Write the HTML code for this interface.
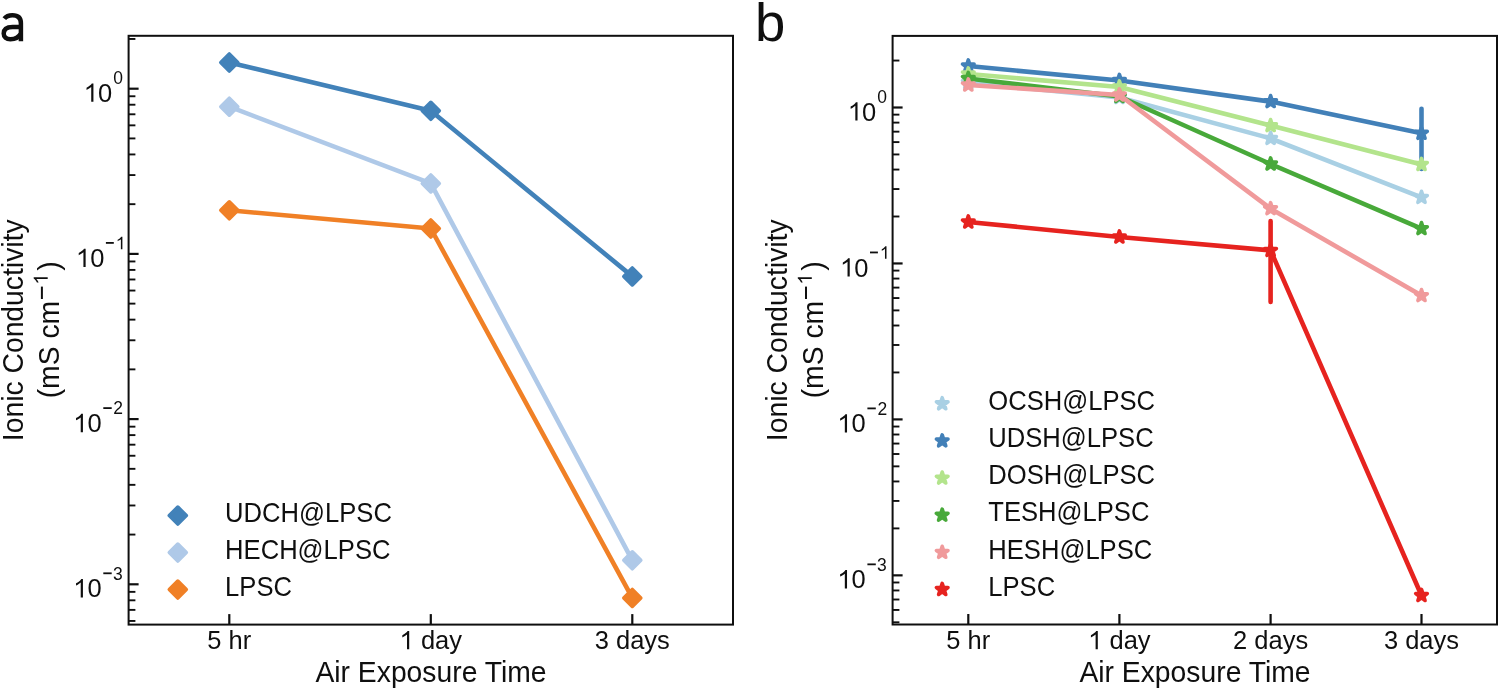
<!DOCTYPE html>
<html><head><meta charset="utf-8"><style>
html,body{margin:0;padding:0;background:#fff;overflow:hidden;}
svg{display:block;will-change:transform;}
text{font-family:"Liberation Sans", sans-serif;fill:#0f0f0f;}
</style></head><body>
<svg width="1500" height="690" viewBox="0 0 1500 690">
<line x1="128.6" y1="584.3" x2="138.6" y2="584.3" stroke="#0f0f0f" stroke-width="2.2"/>
<line x1="128.6" y1="419.1" x2="138.6" y2="419.1" stroke="#0f0f0f" stroke-width="2.2"/>
<line x1="128.6" y1="253.9" x2="138.6" y2="253.9" stroke="#0f0f0f" stroke-width="2.2"/>
<line x1="128.6" y1="88.7" x2="138.6" y2="88.7" stroke="#0f0f0f" stroke-width="2.2"/>
<line x1="128.6" y1="620.95" x2="135.4" y2="620.95" stroke="#0f0f0f" stroke-width="1.9"/>
<line x1="128.6" y1="609.89" x2="135.4" y2="609.89" stroke="#0f0f0f" stroke-width="1.9"/>
<line x1="128.6" y1="600.31" x2="135.4" y2="600.31" stroke="#0f0f0f" stroke-width="1.9"/>
<line x1="128.6" y1="591.86" x2="135.4" y2="591.86" stroke="#0f0f0f" stroke-width="1.9"/>
<line x1="128.6" y1="534.57" x2="135.4" y2="534.57" stroke="#0f0f0f" stroke-width="1.9"/>
<line x1="128.6" y1="505.48" x2="135.4" y2="505.48" stroke="#0f0f0f" stroke-width="1.9"/>
<line x1="128.6" y1="484.84" x2="135.4" y2="484.84" stroke="#0f0f0f" stroke-width="1.9"/>
<line x1="128.6" y1="468.83" x2="135.4" y2="468.83" stroke="#0f0f0f" stroke-width="1.9"/>
<line x1="128.6" y1="455.75" x2="135.4" y2="455.75" stroke="#0f0f0f" stroke-width="1.9"/>
<line x1="128.6" y1="444.69" x2="135.4" y2="444.69" stroke="#0f0f0f" stroke-width="1.9"/>
<line x1="128.6" y1="435.11" x2="135.4" y2="435.11" stroke="#0f0f0f" stroke-width="1.9"/>
<line x1="128.6" y1="426.66" x2="135.4" y2="426.66" stroke="#0f0f0f" stroke-width="1.9"/>
<line x1="128.6" y1="369.37" x2="135.4" y2="369.37" stroke="#0f0f0f" stroke-width="1.9"/>
<line x1="128.6" y1="340.28" x2="135.4" y2="340.28" stroke="#0f0f0f" stroke-width="1.9"/>
<line x1="128.6" y1="319.64" x2="135.4" y2="319.64" stroke="#0f0f0f" stroke-width="1.9"/>
<line x1="128.6" y1="303.63" x2="135.4" y2="303.63" stroke="#0f0f0f" stroke-width="1.9"/>
<line x1="128.6" y1="290.55" x2="135.4" y2="290.55" stroke="#0f0f0f" stroke-width="1.9"/>
<line x1="128.6" y1="279.49" x2="135.4" y2="279.49" stroke="#0f0f0f" stroke-width="1.9"/>
<line x1="128.6" y1="269.91" x2="135.4" y2="269.91" stroke="#0f0f0f" stroke-width="1.9"/>
<line x1="128.6" y1="261.46" x2="135.4" y2="261.46" stroke="#0f0f0f" stroke-width="1.9"/>
<line x1="128.6" y1="204.17" x2="135.4" y2="204.17" stroke="#0f0f0f" stroke-width="1.9"/>
<line x1="128.6" y1="175.08" x2="135.4" y2="175.08" stroke="#0f0f0f" stroke-width="1.9"/>
<line x1="128.6" y1="154.44" x2="135.4" y2="154.44" stroke="#0f0f0f" stroke-width="1.9"/>
<line x1="128.6" y1="138.43" x2="135.4" y2="138.43" stroke="#0f0f0f" stroke-width="1.9"/>
<line x1="128.6" y1="125.35" x2="135.4" y2="125.35" stroke="#0f0f0f" stroke-width="1.9"/>
<line x1="128.6" y1="114.29" x2="135.4" y2="114.29" stroke="#0f0f0f" stroke-width="1.9"/>
<line x1="128.6" y1="104.71" x2="135.4" y2="104.71" stroke="#0f0f0f" stroke-width="1.9"/>
<line x1="128.6" y1="96.26" x2="135.4" y2="96.26" stroke="#0f0f0f" stroke-width="1.9"/>
<line x1="128.6" y1="38.97" x2="135.4" y2="38.97" stroke="#0f0f0f" stroke-width="1.9"/>
<line x1="229.3" y1="624.6" x2="229.3" y2="614.1" stroke="#0f0f0f" stroke-width="2.2"/>
<line x1="430.8" y1="624.6" x2="430.8" y2="614.1" stroke="#0f0f0f" stroke-width="2.2"/>
<line x1="632.3" y1="624.6" x2="632.3" y2="614.1" stroke="#0f0f0f" stroke-width="2.2"/>
<rect x="128.6" y="35.8" width="604.40" height="588.80" fill="none" stroke="#0f0f0f" stroke-width="2.0"/>
<path d="M771,0 L594,0 L594,1139 C530,1080 450,1025 355,975 C300,946 255,925 217,912 L217,1082 C330,1130 430,1195 510,1265 C570,1318 612,1367 640,1409 L771,1409 Z" transform="translate(83.83,101.80) scale(0.01245,-0.01301)" fill="#0f0f0f"/>
<text transform="matrix(1,0,0,1.045,0,-4.581)" x="98.01" y="101.80" font-size="25.5">0</text>
<text transform="matrix(1,0,0,1.045,0,-3.784)" x="122.88" y="84.10" font-size="17.5" text-anchor="end">0</text>
<path d="M771,0 L594,0 L594,1139 C530,1080 450,1025 355,975 C300,946 255,925 217,912 L217,1082 C330,1130 430,1195 510,1265 C570,1318 612,1367 640,1409 L771,1409 Z" transform="translate(76.03,267.00) scale(0.01245,-0.01301)" fill="#0f0f0f"/>
<text transform="matrix(1,0,0,1.045,0,-12.015)" x="90.21" y="267.00" font-size="25.5">0</text>
<rect x="105.90" y="242.00" width="7.90" height="1.8" fill="#0f0f0f"/>
<path d="M771,0 L594,0 L594,1139 C530,1080 450,1025 355,975 C300,946 255,925 217,912 L217,1082 C330,1130 430,1195 510,1265 C570,1318 612,1367 640,1409 L771,1409 Z" transform="translate(115.81,249.30) scale(0.00854,-0.00893)" fill="#0f0f0f"/>
<path d="M771,0 L594,0 L594,1139 C530,1080 450,1025 355,975 C300,946 255,925 217,912 L217,1082 C330,1130 430,1195 510,1265 C570,1318 612,1367 640,1409 L771,1409 Z" transform="translate(73.33,432.20) scale(0.01245,-0.01301)" fill="#0f0f0f"/>
<text transform="matrix(1,0,0,1.045,0,-19.449)" x="87.51" y="432.20" font-size="25.5">0</text>
<rect x="103.30" y="407.20" width="8.40" height="1.8" fill="#0f0f0f"/>
<text transform="matrix(1,0,0,1.045,0,-18.652)" x="123.08" y="414.50" font-size="17.5" text-anchor="end">2</text>
<path d="M771,0 L594,0 L594,1139 C530,1080 450,1025 355,975 C300,946 255,925 217,912 L217,1082 C330,1130 430,1195 510,1265 C570,1318 612,1367 640,1409 L771,1409 Z" transform="translate(73.33,597.40) scale(0.01245,-0.01301)" fill="#0f0f0f"/>
<text transform="matrix(1,0,0,1.045,0,-26.883)" x="87.51" y="597.40" font-size="25.5">0</text>
<rect x="103.30" y="572.40" width="8.40" height="1.8" fill="#0f0f0f"/>
<text transform="matrix(1,0,0,1.045,0,-26.086)" x="122.67" y="579.70" font-size="17.5" text-anchor="end">3</text>
<text transform="matrix(1,0,0,1.045,0,-29.218)" x="229.3" y="649.3" font-size="25.5" text-anchor="middle">5 hr</text>
<path d="M771,0 L594,0 L594,1139 C530,1080 450,1025 355,975 C300,946 255,925 217,912 L217,1082 C330,1130 430,1195 510,1265 C570,1318 612,1367 640,1409 L771,1409 Z" transform="translate(399.61,649.30) scale(0.01245,-0.01301)" fill="#0f0f0f"/>
<text transform="matrix(1,0,0,1.045,0,-29.218)" x="420.88" y="649.3" font-size="25.5">day</text>
<text transform="matrix(1,0,0,1.045,0,-29.218)" x="632.3" y="649.3" font-size="25.5" text-anchor="middle">3 days</text>
<text transform="matrix(1,0,0,1.045,0,-30.703)" x="431.00" y="682.3" font-size="28.3" text-anchor="middle">Air Exposure Time</text>
<text transform="translate(22.8,330.3) rotate(-90) scale(1,1.045)" font-size="28.3" text-anchor="middle">Ionic Conductivity</text>
<g transform="translate(58.9,0) rotate(-90)">
<text transform="matrix(1,0,0,1.045,0,-0.000)" x="-398.35" y="0" font-size="28.3">(mS cm</text>
<rect x="-299" y="-18" width="12.4" height="2" fill="#0f0f0f"/>
<path d="M771,0 L594,0 L594,1139 C530,1080 450,1025 355,975 C300,946 255,925 217,912 L217,1082 C330,1130 430,1195 510,1265 C570,1318 612,1367 640,1409 L771,1409 Z" transform="translate(-284.67,-11.20) scale(0.00952,-0.00995)" fill="#0f0f0f"/>
<text transform="matrix(1,0,0,1.045,0,-0.000)" x="-270.77" y="0" font-size="28.3">)</text>
</g>
<path d="M4.3,18.6 C6.2,16.1 9,15.2 12.4,15.2 C18.2,15.2 20.9,17.6 20.9,23.2 L20.9,41.3 M20.9,27.0 L12.6,27.0 C6.4,27.0 3.7,29.6 3.7,33.6 C3.7,37.2 6.3,39.2 10.4,39.2 C15.2,39.2 19.2,36.6 20.9,33.2" fill="none" stroke="#0f0f0f" stroke-width="4.5"/>
<polyline points="229.3,62.5 430.8,110.8 632.3,276.4" fill="none" stroke="#4282b9" stroke-width="4.6" stroke-linejoin="round" stroke-linecap="round"/>
<path d="M229.30,54.00 L237.80,62.50 L229.30,71.00 L220.80,62.50 Z" fill="#4282b9" stroke="#4282b9" stroke-width="3.6" stroke-linejoin="round"/>
<path d="M430.80,102.30 L439.30,110.80 L430.80,119.30 L422.30,110.80 Z" fill="#4282b9" stroke="#4282b9" stroke-width="3.6" stroke-linejoin="round"/>
<path d="M632.30,267.90 L640.80,276.40 L632.30,284.90 L623.80,276.40 Z" fill="#4282b9" stroke="#4282b9" stroke-width="3.6" stroke-linejoin="round"/>
<polyline points="229.3,106.7 430.8,183.4 632.3,560.3" fill="none" stroke="#afc9e8" stroke-width="4.6" stroke-linejoin="round" stroke-linecap="round"/>
<path d="M229.30,98.20 L237.80,106.70 L229.30,115.20 L220.80,106.70 Z" fill="#afc9e8" stroke="#afc9e8" stroke-width="3.6" stroke-linejoin="round"/>
<path d="M430.80,174.90 L439.30,183.40 L430.80,191.90 L422.30,183.40 Z" fill="#afc9e8" stroke="#afc9e8" stroke-width="3.6" stroke-linejoin="round"/>
<path d="M632.30,551.80 L640.80,560.30 L632.30,568.80 L623.80,560.30 Z" fill="#afc9e8" stroke="#afc9e8" stroke-width="3.6" stroke-linejoin="round"/>
<polyline points="229.3,210.3 430.8,228.5 632.3,597.9" fill="none" stroke="#f08026" stroke-width="4.6" stroke-linejoin="round" stroke-linecap="round"/>
<path d="M229.30,201.80 L237.80,210.30 L229.30,218.80 L220.80,210.30 Z" fill="#f08026" stroke="#f08026" stroke-width="3.6" stroke-linejoin="round"/>
<path d="M430.80,220.00 L439.30,228.50 L430.80,237.00 L422.30,228.50 Z" fill="#f08026" stroke="#f08026" stroke-width="3.6" stroke-linejoin="round"/>
<path d="M632.30,589.40 L640.80,597.90 L632.30,606.40 L623.80,597.90 Z" fill="#f08026" stroke="#f08026" stroke-width="3.6" stroke-linejoin="round"/>
<path d="M177.80,507.10 L186.30,515.60 L177.80,524.10 L169.30,515.60 Z" fill="#4282b9" stroke="#4282b9" stroke-width="3.6" stroke-linejoin="round"/>
<text transform="matrix(1,0,0,1.045,0,-23.503)" x="225.12" y="522.30" font-size="25.6">UDCH@LPSC</text>
<path d="M177.80,544.10 L186.30,552.60 L177.80,561.10 L169.30,552.60 Z" fill="#afc9e8" stroke="#afc9e8" stroke-width="3.6" stroke-linejoin="round"/>
<text transform="matrix(1,0,0,1.045,0,-25.168)" x="225.12" y="559.30" font-size="25.6">HECH@LPSC</text>
<path d="M177.80,581.10 L186.30,589.60 L177.80,598.10 L169.30,589.60 Z" fill="#f08026" stroke="#f08026" stroke-width="3.6" stroke-linejoin="round"/>
<text transform="matrix(1,0,0,1.045,0,-26.833)" x="225.12" y="596.30" font-size="25.6">LPSC</text>
<line x1="892.6" y1="575.35" x2="902.6" y2="575.35" stroke="#0f0f0f" stroke-width="2.2"/>
<line x1="892.6" y1="419.4" x2="902.6" y2="419.4" stroke="#0f0f0f" stroke-width="2.2"/>
<line x1="892.6" y1="263.45" x2="902.6" y2="263.45" stroke="#0f0f0f" stroke-width="2.2"/>
<line x1="892.6" y1="107.5" x2="902.6" y2="107.5" stroke="#0f0f0f" stroke-width="2.2"/>
<line x1="892.6" y1="622.3" x2="899.4" y2="622.3" stroke="#0f0f0f" stroke-width="1.9"/>
<line x1="892.6" y1="609.95" x2="899.4" y2="609.95" stroke="#0f0f0f" stroke-width="1.9"/>
<line x1="892.6" y1="599.51" x2="899.4" y2="599.51" stroke="#0f0f0f" stroke-width="1.9"/>
<line x1="892.6" y1="590.46" x2="899.4" y2="590.46" stroke="#0f0f0f" stroke-width="1.9"/>
<line x1="892.6" y1="582.49" x2="899.4" y2="582.49" stroke="#0f0f0f" stroke-width="1.9"/>
<line x1="892.6" y1="528.4" x2="899.4" y2="528.4" stroke="#0f0f0f" stroke-width="1.9"/>
<line x1="892.6" y1="500.94" x2="899.4" y2="500.94" stroke="#0f0f0f" stroke-width="1.9"/>
<line x1="892.6" y1="481.46" x2="899.4" y2="481.46" stroke="#0f0f0f" stroke-width="1.9"/>
<line x1="892.6" y1="466.35" x2="899.4" y2="466.35" stroke="#0f0f0f" stroke-width="1.9"/>
<line x1="892.6" y1="454.0" x2="899.4" y2="454.0" stroke="#0f0f0f" stroke-width="1.9"/>
<line x1="892.6" y1="443.56" x2="899.4" y2="443.56" stroke="#0f0f0f" stroke-width="1.9"/>
<line x1="892.6" y1="434.51" x2="899.4" y2="434.51" stroke="#0f0f0f" stroke-width="1.9"/>
<line x1="892.6" y1="426.54" x2="899.4" y2="426.54" stroke="#0f0f0f" stroke-width="1.9"/>
<line x1="892.6" y1="372.45" x2="899.4" y2="372.45" stroke="#0f0f0f" stroke-width="1.9"/>
<line x1="892.6" y1="344.99" x2="899.4" y2="344.99" stroke="#0f0f0f" stroke-width="1.9"/>
<line x1="892.6" y1="325.51" x2="899.4" y2="325.51" stroke="#0f0f0f" stroke-width="1.9"/>
<line x1="892.6" y1="310.4" x2="899.4" y2="310.4" stroke="#0f0f0f" stroke-width="1.9"/>
<line x1="892.6" y1="298.05" x2="899.4" y2="298.05" stroke="#0f0f0f" stroke-width="1.9"/>
<line x1="892.6" y1="287.61" x2="899.4" y2="287.61" stroke="#0f0f0f" stroke-width="1.9"/>
<line x1="892.6" y1="278.56" x2="899.4" y2="278.56" stroke="#0f0f0f" stroke-width="1.9"/>
<line x1="892.6" y1="270.59" x2="899.4" y2="270.59" stroke="#0f0f0f" stroke-width="1.9"/>
<line x1="892.6" y1="216.5" x2="899.4" y2="216.5" stroke="#0f0f0f" stroke-width="1.9"/>
<line x1="892.6" y1="189.04" x2="899.4" y2="189.04" stroke="#0f0f0f" stroke-width="1.9"/>
<line x1="892.6" y1="169.56" x2="899.4" y2="169.56" stroke="#0f0f0f" stroke-width="1.9"/>
<line x1="892.6" y1="154.45" x2="899.4" y2="154.45" stroke="#0f0f0f" stroke-width="1.9"/>
<line x1="892.6" y1="142.1" x2="899.4" y2="142.1" stroke="#0f0f0f" stroke-width="1.9"/>
<line x1="892.6" y1="131.66" x2="899.4" y2="131.66" stroke="#0f0f0f" stroke-width="1.9"/>
<line x1="892.6" y1="122.61" x2="899.4" y2="122.61" stroke="#0f0f0f" stroke-width="1.9"/>
<line x1="892.6" y1="114.64" x2="899.4" y2="114.64" stroke="#0f0f0f" stroke-width="1.9"/>
<line x1="892.6" y1="60.55" x2="899.4" y2="60.55" stroke="#0f0f0f" stroke-width="1.9"/>
<line x1="968.3" y1="624.5" x2="968.3" y2="614.0" stroke="#0f0f0f" stroke-width="2.2"/>
<line x1="1119.4" y1="624.5" x2="1119.4" y2="614.0" stroke="#0f0f0f" stroke-width="2.2"/>
<line x1="1270.6" y1="624.5" x2="1270.6" y2="614.0" stroke="#0f0f0f" stroke-width="2.2"/>
<line x1="1421.5" y1="624.5" x2="1421.5" y2="614.0" stroke="#0f0f0f" stroke-width="2.2"/>
<rect x="892.6" y="35.9" width="604.40" height="588.60" fill="none" stroke="#0f0f0f" stroke-width="2.0"/>
<path d="M771,0 L594,0 L594,1139 C530,1080 450,1025 355,975 C300,946 255,925 217,912 L217,1082 C330,1130 430,1195 510,1265 C570,1318 612,1367 640,1409 L771,1409 Z" transform="translate(847.93,120.60) scale(0.01245,-0.01301)" fill="#0f0f0f"/>
<text transform="matrix(1,0,0,1.045,0,-5.427)" x="862.11" y="120.60" font-size="25.5">0</text>
<text transform="matrix(1,0,0,1.045,0,-4.630)" x="886.98" y="102.90" font-size="17.5" text-anchor="end">0</text>
<path d="M771,0 L594,0 L594,1139 C530,1080 450,1025 355,975 C300,946 255,925 217,912 L217,1082 C330,1130 430,1195 510,1265 C570,1318 612,1367 640,1409 L771,1409 Z" transform="translate(840.13,276.55) scale(0.01245,-0.01301)" fill="#0f0f0f"/>
<text transform="matrix(1,0,0,1.045,0,-12.445)" x="854.31" y="276.55" font-size="25.5">0</text>
<rect x="870.00" y="251.55" width="7.90" height="1.8" fill="#0f0f0f"/>
<path d="M771,0 L594,0 L594,1139 C530,1080 450,1025 355,975 C300,946 255,925 217,912 L217,1082 C330,1130 430,1195 510,1265 C570,1318 612,1367 640,1409 L771,1409 Z" transform="translate(879.91,258.85) scale(0.00854,-0.00893)" fill="#0f0f0f"/>
<path d="M771,0 L594,0 L594,1139 C530,1080 450,1025 355,975 C300,946 255,925 217,912 L217,1082 C330,1130 430,1195 510,1265 C570,1318 612,1367 640,1409 L771,1409 Z" transform="translate(837.43,432.50) scale(0.01245,-0.01301)" fill="#0f0f0f"/>
<text transform="matrix(1,0,0,1.045,0,-19.462)" x="851.61" y="432.50" font-size="25.5">0</text>
<rect x="867.40" y="407.50" width="8.40" height="1.8" fill="#0f0f0f"/>
<text transform="matrix(1,0,0,1.045,0,-18.666)" x="887.18" y="414.80" font-size="17.5" text-anchor="end">2</text>
<path d="M771,0 L594,0 L594,1139 C530,1080 450,1025 355,975 C300,946 255,925 217,912 L217,1082 C330,1130 430,1195 510,1265 C570,1318 612,1367 640,1409 L771,1409 Z" transform="translate(837.43,588.45) scale(0.01245,-0.01301)" fill="#0f0f0f"/>
<text transform="matrix(1,0,0,1.045,0,-26.480)" x="851.61" y="588.45" font-size="25.5">0</text>
<rect x="867.40" y="563.45" width="8.40" height="1.8" fill="#0f0f0f"/>
<text transform="matrix(1,0,0,1.045,0,-25.684)" x="886.77" y="570.75" font-size="17.5" text-anchor="end">3</text>
<text transform="matrix(1,0,0,1.045,0,-29.218)" x="968.3" y="649.3" font-size="25.5" text-anchor="middle">5 hr</text>
<path d="M771,0 L594,0 L594,1139 C530,1080 450,1025 355,975 C300,946 255,925 217,912 L217,1082 C330,1130 430,1195 510,1265 C570,1318 612,1367 640,1409 L771,1409 Z" transform="translate(1088.21,649.30) scale(0.01245,-0.01301)" fill="#0f0f0f"/>
<text transform="matrix(1,0,0,1.045,0,-29.218)" x="1109.48" y="649.3" font-size="25.5">day</text>
<text transform="matrix(1,0,0,1.045,0,-29.218)" x="1270.6" y="649.3" font-size="25.5" text-anchor="middle">2 days</text>
<text transform="matrix(1,0,0,1.045,0,-29.218)" x="1421.5" y="649.3" font-size="25.5" text-anchor="middle">3 days</text>
<text transform="matrix(1,0,0,1.045,0,-30.703)" x="1195.00" y="682.3" font-size="28.3" text-anchor="middle">Air Exposure Time</text>
<text transform="translate(786.9,330.3) rotate(-90) scale(1,1.045)" font-size="28.3" text-anchor="middle">Ionic Conductivity</text>
<g transform="translate(823.0,0) rotate(-90)">
<text transform="matrix(1,0,0,1.045,0,-0.000)" x="-398.35" y="0" font-size="28.3">(mS cm</text>
<rect x="-299" y="-18" width="12.4" height="2" fill="#0f0f0f"/>
<path d="M771,0 L594,0 L594,1139 C530,1080 450,1025 355,975 C300,946 255,925 217,912 L217,1082 C330,1130 430,1195 510,1265 C570,1318 612,1367 640,1409 L771,1409 Z" transform="translate(-284.67,-11.20) scale(0.00952,-0.00995)" fill="#0f0f0f"/>
<text transform="matrix(1,0,0,1.045,0,-0.000)" x="-270.77" y="0" font-size="28.3">)</text>
</g>
<text x="754.9" y="40.8" font-size="54.5">b</text>
<polyline points="968.3,82.5 1119.4,97.5 1270.6,138.4 1421.5,197.4" fill="none" stroke="#a9d0e4" stroke-width="4.6" stroke-linejoin="round" stroke-linecap="round"/>
<polygon points="968.30,76.40 969.67,80.61 974.10,80.61 970.52,83.22 971.89,87.44 968.30,84.83 964.71,87.44 966.08,83.22 962.50,80.61 966.93,80.61" fill="#a9d0e4" stroke="#a9d0e4" stroke-width="3.6" stroke-linejoin="round"/>
<polygon points="1119.40,91.40 1120.77,95.61 1125.20,95.61 1121.62,98.22 1122.99,102.44 1119.40,99.83 1115.81,102.44 1117.18,98.22 1113.60,95.61 1118.03,95.61" fill="#a9d0e4" stroke="#a9d0e4" stroke-width="3.6" stroke-linejoin="round"/>
<polygon points="1270.60,132.30 1271.97,136.51 1276.40,136.51 1272.82,139.12 1274.19,143.34 1270.60,140.73 1267.01,143.34 1268.38,139.12 1264.80,136.51 1269.23,136.51" fill="#a9d0e4" stroke="#a9d0e4" stroke-width="3.6" stroke-linejoin="round"/>
<polygon points="1421.50,191.30 1422.87,195.51 1427.30,195.51 1423.72,198.12 1425.09,202.34 1421.50,199.73 1417.91,202.34 1419.28,198.12 1415.70,195.51 1420.13,195.51" fill="#a9d0e4" stroke="#a9d0e4" stroke-width="3.6" stroke-linejoin="round"/>
<polyline points="968.3,66 1119.4,80.5 1270.6,101.6 1421.5,133.3" fill="none" stroke="#4280b8" stroke-width="4.6" stroke-linejoin="round" stroke-linecap="round"/>
<polygon points="968.30,59.90 969.67,64.11 974.10,64.11 970.52,66.72 971.89,70.94 968.30,68.33 964.71,70.94 966.08,66.72 962.50,64.11 966.93,64.11" fill="#4280b8" stroke="#4280b8" stroke-width="3.6" stroke-linejoin="round"/>
<polygon points="1119.40,74.40 1120.77,78.61 1125.20,78.61 1121.62,81.22 1122.99,85.44 1119.40,82.83 1115.81,85.44 1117.18,81.22 1113.60,78.61 1118.03,78.61" fill="#4280b8" stroke="#4280b8" stroke-width="3.6" stroke-linejoin="round"/>
<polygon points="1270.60,95.50 1271.97,99.71 1276.40,99.71 1272.82,102.32 1274.19,106.54 1270.60,103.93 1267.01,106.54 1268.38,102.32 1264.80,99.71 1269.23,99.71" fill="#4280b8" stroke="#4280b8" stroke-width="3.6" stroke-linejoin="round"/>
<polygon points="1421.50,127.20 1422.87,131.41 1427.30,131.41 1423.72,134.02 1425.09,138.24 1421.50,135.63 1417.91,138.24 1419.28,134.02 1415.70,131.41 1420.13,131.41" fill="#4280b8" stroke="#4280b8" stroke-width="3.6" stroke-linejoin="round"/>
<line x1="1421.5" y1="108.7" x2="1421.5" y2="169.0" stroke="#4280b8" stroke-width="4.6" stroke-linecap="round"/>
<polyline points="968.3,74 1119.4,87 1270.6,125.6 1421.5,164.5" fill="none" stroke="#b3e48c" stroke-width="4.6" stroke-linejoin="round" stroke-linecap="round"/>
<polygon points="968.30,67.90 969.67,72.11 974.10,72.11 970.52,74.72 971.89,78.94 968.30,76.33 964.71,78.94 966.08,74.72 962.50,72.11 966.93,72.11" fill="#b3e48c" stroke="#b3e48c" stroke-width="3.6" stroke-linejoin="round"/>
<polygon points="1119.40,80.90 1120.77,85.11 1125.20,85.11 1121.62,87.72 1122.99,91.94 1119.40,89.33 1115.81,91.94 1117.18,87.72 1113.60,85.11 1118.03,85.11" fill="#b3e48c" stroke="#b3e48c" stroke-width="3.6" stroke-linejoin="round"/>
<polygon points="1270.60,119.50 1271.97,123.71 1276.40,123.71 1272.82,126.32 1274.19,130.54 1270.60,127.93 1267.01,130.54 1268.38,126.32 1264.80,123.71 1269.23,123.71" fill="#b3e48c" stroke="#b3e48c" stroke-width="3.6" stroke-linejoin="round"/>
<polygon points="1421.50,158.40 1422.87,162.61 1427.30,162.61 1423.72,165.22 1425.09,169.44 1421.50,166.83 1417.91,169.44 1419.28,165.22 1415.70,162.61 1420.13,162.61" fill="#b3e48c" stroke="#b3e48c" stroke-width="3.6" stroke-linejoin="round"/>
<polyline points="968.3,78.5 1119.4,96.5 1270.6,164 1421.5,228.6" fill="none" stroke="#48a93a" stroke-width="4.6" stroke-linejoin="round" stroke-linecap="round"/>
<polygon points="968.30,72.40 969.67,76.61 974.10,76.61 970.52,79.22 971.89,83.44 968.30,80.83 964.71,83.44 966.08,79.22 962.50,76.61 966.93,76.61" fill="#48a93a" stroke="#48a93a" stroke-width="3.6" stroke-linejoin="round"/>
<polygon points="1119.40,90.40 1120.77,94.61 1125.20,94.61 1121.62,97.22 1122.99,101.44 1119.40,98.83 1115.81,101.44 1117.18,97.22 1113.60,94.61 1118.03,94.61" fill="#48a93a" stroke="#48a93a" stroke-width="3.6" stroke-linejoin="round"/>
<polygon points="1270.60,157.90 1271.97,162.11 1276.40,162.11 1272.82,164.72 1274.19,168.94 1270.60,166.33 1267.01,168.94 1268.38,164.72 1264.80,162.11 1269.23,162.11" fill="#48a93a" stroke="#48a93a" stroke-width="3.6" stroke-linejoin="round"/>
<polygon points="1421.50,222.50 1422.87,226.71 1427.30,226.71 1423.72,229.32 1425.09,233.54 1421.50,230.93 1417.91,233.54 1419.28,229.32 1415.70,226.71 1420.13,226.71" fill="#48a93a" stroke="#48a93a" stroke-width="3.6" stroke-linejoin="round"/>
<polyline points="968.3,85 1119.4,95 1270.6,208.7 1421.5,295.6" fill="none" stroke="#f09a9b" stroke-width="4.6" stroke-linejoin="round" stroke-linecap="round"/>
<polygon points="968.30,78.90 969.67,83.11 974.10,83.11 970.52,85.72 971.89,89.94 968.30,87.33 964.71,89.94 966.08,85.72 962.50,83.11 966.93,83.11" fill="#f09a9b" stroke="#f09a9b" stroke-width="3.6" stroke-linejoin="round"/>
<polygon points="1119.40,88.90 1120.77,93.11 1125.20,93.11 1121.62,95.72 1122.99,99.94 1119.40,97.33 1115.81,99.94 1117.18,95.72 1113.60,93.11 1118.03,93.11" fill="#f09a9b" stroke="#f09a9b" stroke-width="3.6" stroke-linejoin="round"/>
<polygon points="1270.60,202.60 1271.97,206.81 1276.40,206.81 1272.82,209.42 1274.19,213.64 1270.60,211.03 1267.01,213.64 1268.38,209.42 1264.80,206.81 1269.23,206.81" fill="#f09a9b" stroke="#f09a9b" stroke-width="3.6" stroke-linejoin="round"/>
<polygon points="1421.50,289.50 1422.87,293.71 1427.30,293.71 1423.72,296.32 1425.09,300.54 1421.50,297.93 1417.91,300.54 1419.28,296.32 1415.70,293.71 1420.13,293.71" fill="#f09a9b" stroke="#f09a9b" stroke-width="3.6" stroke-linejoin="round"/>
<polyline points="968.3,222.0 1119.4,237.0 1270.6,250.4 1421.5,595.5" fill="none" stroke="#e6231f" stroke-width="4.6" stroke-linejoin="round" stroke-linecap="round"/>
<polygon points="968.30,215.90 969.67,220.11 974.10,220.11 970.52,222.72 971.89,226.94 968.30,224.33 964.71,226.94 966.08,222.72 962.50,220.11 966.93,220.11" fill="#e6231f" stroke="#e6231f" stroke-width="3.6" stroke-linejoin="round"/>
<polygon points="1119.40,230.90 1120.77,235.11 1125.20,235.11 1121.62,237.72 1122.99,241.94 1119.40,239.33 1115.81,241.94 1117.18,237.72 1113.60,235.11 1118.03,235.11" fill="#e6231f" stroke="#e6231f" stroke-width="3.6" stroke-linejoin="round"/>
<polygon points="1270.60,244.30 1271.97,248.51 1276.40,248.51 1272.82,251.12 1274.19,255.34 1270.60,252.73 1267.01,255.34 1268.38,251.12 1264.80,248.51 1269.23,248.51" fill="#e6231f" stroke="#e6231f" stroke-width="3.6" stroke-linejoin="round"/>
<polygon points="1421.50,589.40 1422.87,593.61 1427.30,593.61 1423.72,596.22 1425.09,600.44 1421.50,597.83 1417.91,600.44 1419.28,596.22 1415.70,593.61 1420.13,593.61" fill="#e6231f" stroke="#e6231f" stroke-width="3.6" stroke-linejoin="round"/>
<line x1="1270.6" y1="221.10000000000002" x2="1270.6" y2="302.0" stroke="#e6231f" stroke-width="4.6" stroke-linecap="round"/>
<polygon points="942.20,397.70 943.57,401.91 948.00,401.91 944.42,404.52 945.79,408.74 942.20,406.13 938.61,408.74 939.98,404.52 936.40,401.91 940.83,401.91" fill="#a9d0e4" stroke="#a9d0e4" stroke-width="3.6" stroke-linejoin="round"/>
<text transform="matrix(1,0,0,1.045,0,-18.450)" x="988.32" y="410.00" font-size="25.6">OCSH@LPSC</text>
<polygon points="942.20,434.84 943.57,439.05 948.00,439.05 944.42,441.66 945.79,445.88 942.20,443.27 938.61,445.88 939.98,441.66 936.40,439.05 940.83,439.05" fill="#4280b8" stroke="#4280b8" stroke-width="3.6" stroke-linejoin="round"/>
<text transform="matrix(1,0,0,1.045,0,-20.121)" x="988.32" y="447.14" font-size="25.6">UDSH@LPSC</text>
<polygon points="942.20,471.98 943.57,476.19 948.00,476.19 944.42,478.80 945.79,483.02 942.20,480.41 938.61,483.02 939.98,478.80 936.40,476.19 940.83,476.19" fill="#b3e48c" stroke="#b3e48c" stroke-width="3.6" stroke-linejoin="round"/>
<text transform="matrix(1,0,0,1.045,0,-21.793)" x="988.32" y="484.28" font-size="25.6">DOSH@LPSC</text>
<polygon points="942.20,509.12 943.57,513.33 948.00,513.33 944.42,515.94 945.79,520.16 942.20,517.55 938.61,520.16 939.98,515.94 936.40,513.33 940.83,513.33" fill="#48a93a" stroke="#48a93a" stroke-width="3.6" stroke-linejoin="round"/>
<text transform="matrix(1,0,0,1.045,0,-23.464)" x="988.32" y="521.42" font-size="25.6">TESH@LPSC</text>
<polygon points="942.20,546.26 943.57,550.47 948.00,550.47 944.42,553.08 945.79,557.30 942.20,554.69 938.61,557.30 939.98,553.08 936.40,550.47 940.83,550.47" fill="#f09a9b" stroke="#f09a9b" stroke-width="3.6" stroke-linejoin="round"/>
<text transform="matrix(1,0,0,1.045,0,-25.135)" x="988.32" y="558.56" font-size="25.6">HESH@LPSC</text>
<polygon points="942.20,583.40 943.57,587.61 948.00,587.61 944.42,590.22 945.79,594.44 942.20,591.83 938.61,594.44 939.98,590.22 936.40,587.61 940.83,587.61" fill="#e6231f" stroke="#e6231f" stroke-width="3.6" stroke-linejoin="round"/>
<text transform="matrix(1,0,0,1.045,0,-26.806)" x="988.32" y="595.70" font-size="25.6">LPSC</text>
</svg></body></html>
